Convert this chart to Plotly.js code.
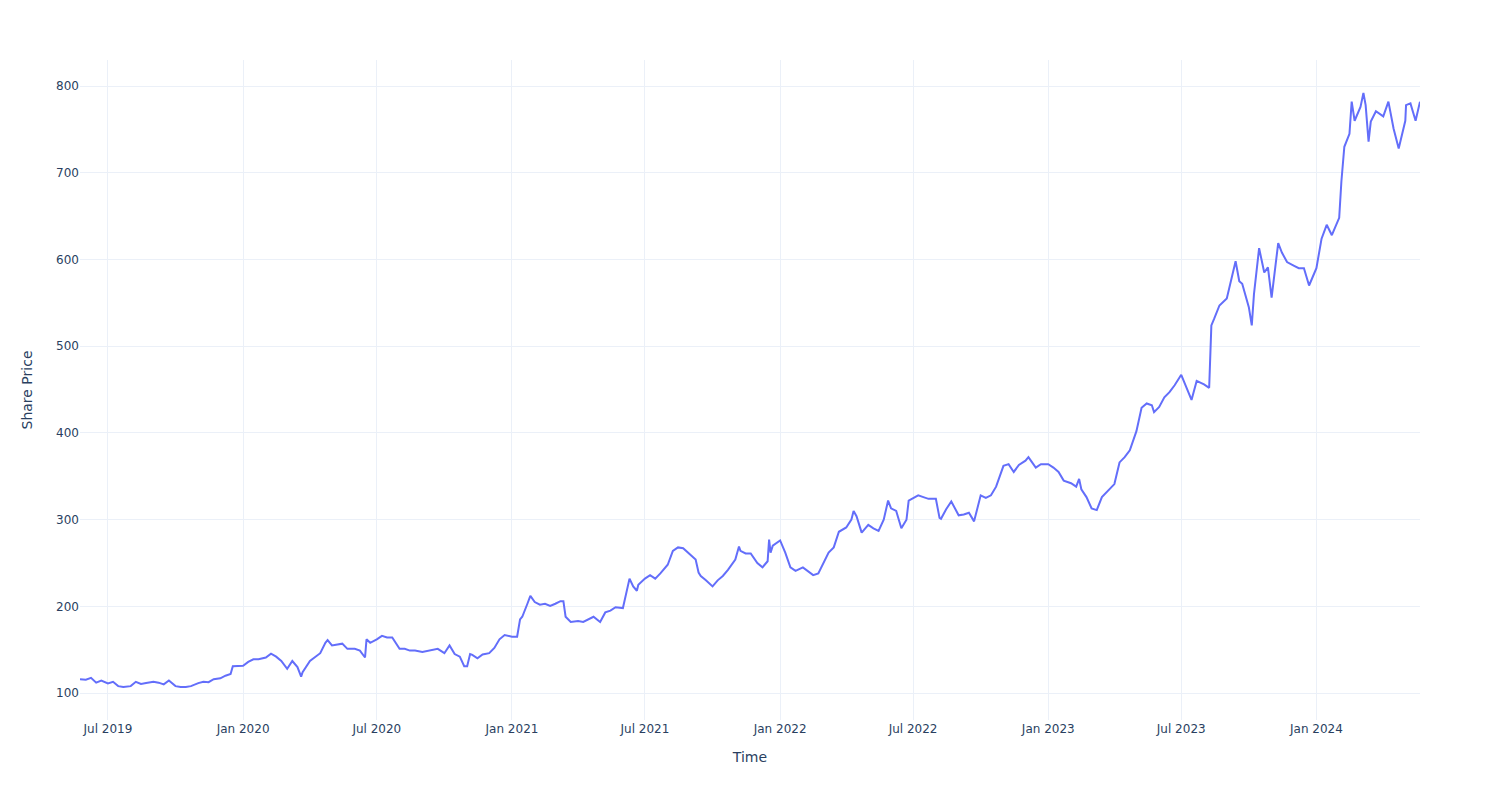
<!DOCTYPE html>
<html>
<head>
<meta charset="utf-8">
<script src="https://cdn.plot.ly/plotly-3.0.1.min.js"></script>
<style>html,body{margin:0;padding:0;background:#fff;}#chart{width:1500px;height:800px;}</style>
</head>
<body>
<div id="chart"></div>
<script>
const dates = [
"2019-05-24","2019-06-01","2019-06-08","2019-06-15","2019-06-22",
"2019-07-01","2019-07-08","2019-07-15","2019-07-22",
"2019-08-01","2019-08-08","2019-08-15","2019-08-22",
"2019-09-01","2019-09-08","2019-09-15","2019-09-22",
"2019-10-01","2019-10-08","2019-10-15","2019-10-22",
"2019-11-01","2019-11-08","2019-11-15","2019-11-22",
"2019-12-01","2019-12-08","2019-12-15","2019-12-18","2019-12-22",
"2020-01-01","2020-01-08","2020-01-15","2020-01-22",
"2020-02-01","2020-02-08","2020-02-15","2020-02-22",
"2020-03-01","2020-03-08","2020-03-15","2020-03-20","2020-03-22",
"2020-04-01","2020-04-08","2020-04-15","2020-04-22","2020-04-25",
"2020-05-01","2020-05-08","2020-05-15","2020-05-22",
"2020-06-01","2020-06-08","2020-06-15","2020-06-17","2020-06-22",
"2020-07-01","2020-07-08","2020-07-15","2020-07-22",
"2020-08-01","2020-08-08","2020-08-15","2020-08-22",
"2020-09-01","2020-09-08","2020-09-15","2020-09-22",
"2020-10-01","2020-10-08","2020-10-15","2020-10-22","2020-10-28",
"2020-11-01","2020-11-05","2020-11-08","2020-11-15","2020-11-22",
"2020-12-01","2020-12-08","2020-12-15","2020-12-22",
"2021-01-01","2021-01-08","2021-01-12","2021-01-15","2021-01-22","2021-01-26",
"2021-02-01","2021-02-08","2021-02-15","2021-02-22",
"2021-03-01","2021-03-08","2021-03-12","2021-03-15","2021-03-22",
"2021-04-01","2021-04-08","2021-04-15","2021-04-22",
"2021-05-01","2021-05-08","2021-05-15","2021-05-22",
"2021-06-01","2021-06-08","2021-06-10","2021-06-15","2021-06-20","2021-06-22",
"2021-07-01","2021-07-08","2021-07-15","2021-07-22",
"2021-08-01","2021-08-08","2021-08-15","2021-08-22",
"2021-09-01","2021-09-08","2021-09-12","2021-09-15","2021-09-22",
"2021-10-01","2021-10-08","2021-10-15","2021-10-22",
"2021-11-01","2021-11-06","2021-11-08","2021-11-15","2021-11-22",
"2021-12-01","2021-12-08","2021-12-15","2021-12-17","2021-12-19","2021-12-22",
"2022-01-01","2022-01-08","2022-01-15","2022-01-22",
"2022-02-01","2022-02-08","2022-02-15","2022-02-22",
"2022-03-01","2022-03-08","2022-03-15","2022-03-22",
"2022-04-01","2022-04-08","2022-04-11","2022-04-15","2022-04-22",
"2022-05-01","2022-05-08","2022-05-15","2022-05-22","2022-05-28",
"2022-06-01","2022-06-08","2022-06-15","2022-06-22","2022-06-25",
"2022-07-01","2022-07-08","2022-07-15","2022-07-22",
"2022-08-01","2022-08-06","2022-08-08","2022-08-15","2022-08-22",
"2022-09-01","2022-09-08","2022-09-15","2022-09-22",
"2022-10-01","2022-10-08","2022-10-15","2022-10-22",
"2022-11-01","2022-11-08","2022-11-15","2022-11-22",
"2022-12-01","2022-12-05","2022-12-08","2022-12-15","2022-12-22",
"2023-01-01","2023-01-08","2023-01-15","2023-01-22",
"2023-02-01","2023-02-08","2023-02-12","2023-02-15","2023-02-22",
"2023-03-01","2023-03-08","2023-03-15","2023-03-22",
"2023-04-01","2023-04-08","2023-04-15","2023-04-22",
"2023-05-01","2023-05-08","2023-05-15","2023-05-22","2023-05-25",
"2023-06-01","2023-06-08","2023-06-15","2023-06-22",
"2023-07-01","2023-07-08","2023-07-15","2023-07-22",
"2023-08-01","2023-08-08","2023-08-11","2023-08-15","2023-08-22",
"2023-09-01","2023-09-08","2023-09-13","2023-09-18","2023-09-22",
"2023-10-01","2023-10-05","2023-10-08","2023-10-15","2023-10-22","2023-10-27",
"2023-11-01","2023-11-08","2023-11-10","2023-11-15","2023-11-22",
"2023-12-01","2023-12-08","2023-12-15","2023-12-22",
"2024-01-01","2024-01-08","2024-01-15","2024-01-22",
"2024-02-01","2024-02-04","2024-02-08","2024-02-15","2024-02-18","2024-02-22",
"2024-03-01","2024-03-05","2024-03-08","2024-03-12","2024-03-15","2024-03-22",
"2024-04-01","2024-04-08","2024-04-15","2024-04-22",
"2024-05-01","2024-05-02","2024-05-08","2024-05-15","2024-05-21"
];
const prices = [
116,115.5,117.5,112,114.5,
111,113,108,107,
108,113,110.5,111.5,
113,112,110,114.5,
108,107,107,108,
111.5,113,112.5,116,
117,120,122,131,131,
131.5,136,139,139,
141,145.5,142,137,
128,137,130,119,124,
137,141,146,158,161,
155,156,157,151,
151,149,141,162,158,
162,166,164,164,
151,151,149,149,
147.5,148.5,150,151,
146,155,145,142,131,
131,145,144,140,144.5,
146,152,162,167,
165,165,185,188,203,212,
205,202,203,200.5,
203,206,206,188,182,
183,182,185,188,
182,193,195,199,
198,225,232,223,218,225,
232,236,232,238,
248,264,268,267,
260,254,239,235,230,
223,230,235,242,
254,269,264,261,261,
250,245,252,277,262,270,
276,262,245,241,
245,240,236,238,
250,262,268,286,
291,300,310,304,285,
294,290,287,300,322,
313,310,290,300,322,
325,328,326,324,
324,302,301,312,321,
305,306,308,298,
328,325,328,338,
362,364,355,363,
368,372,368,360,364,
364,360,355,345,
342,338,347,335,326,
313,311,326,332,
341,366,372,380,
402,429,434,432,424,
430,441,447,455,
467,452,438,460,
456,452,524,532,547,
555,580,598,575,572,
545,524,560,613,585,591,
556,600,619,608,597,
593,590,590,570,
590,624,640,628,
648,690,730,745,782,760,
776,792,778,736,759,771,
765,782,751,728,
760,778,780,760,782
];
const xTitle = "Time";
const yTitle = "Share Price";

const gridC = "#EBF0F8";
const fontFam = "DejaVu Sans, Verdana, sans-serif";
Plotly.newPlot("chart", [{
  x: dates, y: prices, type: "scatter", mode: "lines",
  line: {color: "#636efa", width: 2}, showlegend: false
}], {
  width: 1500, height: 800,
  paper_bgcolor: "#fff", plot_bgcolor: "#fff",
  font: {family: fontFam, color: "#2a3f5f", size: 12},
  margin: {l: 80, r: 80, t: 60, b: 80},
  xaxis: {title: {text: xTitle, font: {size: 14}, standoff: 17}, type: "date", gridcolor: gridC, linecolor: gridC,
          zerolinecolor: gridC, ticks: "", showline: false, automargin: true,
          dtick: "M6", tickformat: "%b %Y"},
  yaxis: {title: {text: yTitle, font: {size: 14}, standoff: 20}, gridcolor: gridC, linecolor: gridC,
          zerolinecolor: gridC, ticks: "", showline: false, automargin: true}
}, {displayModeBar: false});
</script>
</body>
</html>
